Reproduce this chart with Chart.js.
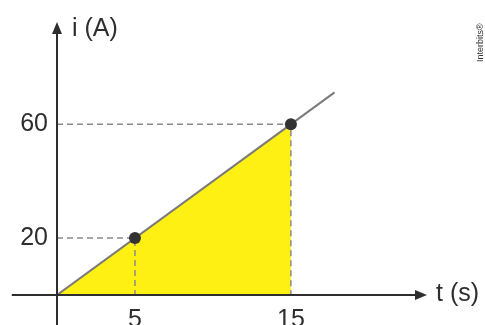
<!DOCTYPE html>
<html>
<head>
<meta charset="utf-8">
<script src="https://cdn.jsdelivr.net/npm/chart.js@4"></script>
<style>
  html, body { margin: 0; padding: 0; background: #fff; }
  #wrap { width: 485px; height: 325px; }
</style>
</head>
<body>
<div id="wrap"><canvas id="myChart"></canvas></div>
<script>
// values
const timeTicks = [5, 15];
const currentTicks = [20, 60];
const markedTimes = [5, 15];
const markedCurrents = [20, 60];
const lineTimes = [0, 17.8];
const lineCurrents = [0, 71.2];
const fillTimes = [0, 15];
const fillCurrents = [0, 60];

const xTitle = 't (s)';
const yTitle = 'i (A)';
const credit = 'Interbits®';

const FONT = '"Liberation Sans", Arial, sans-serif';
const INK = '#2e2e2e';

const pts = (xs, ys) => xs.map((x, i) => ({ x: x, y: ys[i] }));

const dashSets = markedTimes.map((t, i) => ({
  data: [{ x: 0, y: markedCurrents[i] }, { x: t, y: markedCurrents[i] }, { x: t, y: 0 }],
  borderColor: '#8a8a8a',
  borderWidth: 1.5,
  borderDash: [6, 4],
  pointRadius: 0,
  showLine: true,
  fill: false,
  order: 2
}));

// axes with arrowheads, titles and credit
const axesPlugin = {
  id: 'axesPlugin',
  afterDatasetsDraw(chart) {
    const ctx = chart.ctx;
    const xs = chart.scales.x, ys = chart.scales.y;
    const x0 = xs.getPixelForValue(0), y0 = ys.getPixelForValue(0);
    const xEnd = xs.getPixelForValue(xs.max), yEnd = ys.getPixelForValue(ys.max);
    const xStart = xs.getPixelForValue(-2.9), yStart = ys.getPixelForValue(-11);
    ctx.save();
    ctx.strokeStyle = INK;
    ctx.fillStyle = INK;
    ctx.lineWidth = 2;
    ctx.beginPath();
    ctx.moveTo(xStart, y0); ctx.lineTo(xEnd - 8, y0);
    ctx.moveTo(x0, yStart); ctx.lineTo(x0, yEnd + 8);
    ctx.stroke();
    // arrowheads
    ctx.beginPath();
    ctx.moveTo(xEnd + 2, y0); ctx.lineTo(xEnd - 10, y0 - 5); ctx.lineTo(xEnd - 10, y0 + 5); ctx.closePath();
    ctx.moveTo(x0, yEnd - 2); ctx.lineTo(x0 - 5, yEnd + 10); ctx.lineTo(x0 + 5, yEnd + 10); ctx.closePath();
    ctx.fill();
    ctx.font = '25px ' + FONT;
    ctx.textBaseline = 'middle';
    ctx.textAlign = 'left';
    ctx.fillText(xTitle, xEnd + 11, y0 - 1);
    ctx.fillText(yTitle, x0 + 15, yEnd + 5);
    // credit
    ctx.font = '9px ' + FONT;
    ctx.fillStyle = '#333';
    ctx.translate(481, 62);
    ctx.rotate(-Math.PI / 2);
    ctx.textAlign = 'left';
    ctx.textBaseline = 'middle';
    ctx.fillText(credit, 0, 0);
    ctx.restore();
  }
};

new Chart(document.getElementById('myChart').getContext('2d'), {
  type: 'scatter',
  data: {
    datasets: [
      {
        data: pts(fillTimes, fillCurrents),
        showLine: true,
        borderWidth: 0,
        borderColor: 'rgba(0,0,0,0)',
        backgroundColor: '#fff014',
        fill: 'origin',
        pointRadius: 0,
        order: 3
      },
      ...dashSets,
      {
        data: pts(lineTimes, lineCurrents),
        showLine: true,
        borderColor: '#7a7a7a',
        borderWidth: 2,
        pointRadius: 0,
        fill: false,
        order: 1
      },
      {
        data: pts(markedTimes, markedCurrents),
        showLine: false,
        pointRadius: 6,
        pointBackgroundColor: '#333',
        pointBorderColor: '#333',
        pointBorderWidth: 0,
        order: 0
      }
    ]
  },
  options: {
    responsive: true,
    maintainAspectRatio: false,
    animation: false,
    layout: { padding: { left: 0, right: 60, top: 18, bottom: 0 } },
    plugins: { legend: { display: false }, tooltip: { enabled: false } },
    scales: {
      x: {
        type: 'linear', min: 0, max: 23.6,
        grid: { display: false, drawTicks: false },
        border: { display: false },
        afterBuildTicks: s => { s.ticks = timeTicks.map(v => ({ value: v })); },
        afterFit: s => { s.height = 30; },
        ticks: { padding: 10, color: INK, font: { size: 25, family: FONT } }
      },
      y: {
        type: 'linear', min: 0, max: 95.2,
        grid: { display: false, drawTicks: false },
        border: { display: false },
        afterBuildTicks: s => { s.ticks = currentTicks.map(v => ({ value: v })); },
        afterFit: s => { s.width = 57; },
        ticks: { padding: 9, color: INK, font: { size: 25, family: FONT } }
      }
    }
  },
  plugins: [axesPlugin]
});
</script>
</body>
</html>
